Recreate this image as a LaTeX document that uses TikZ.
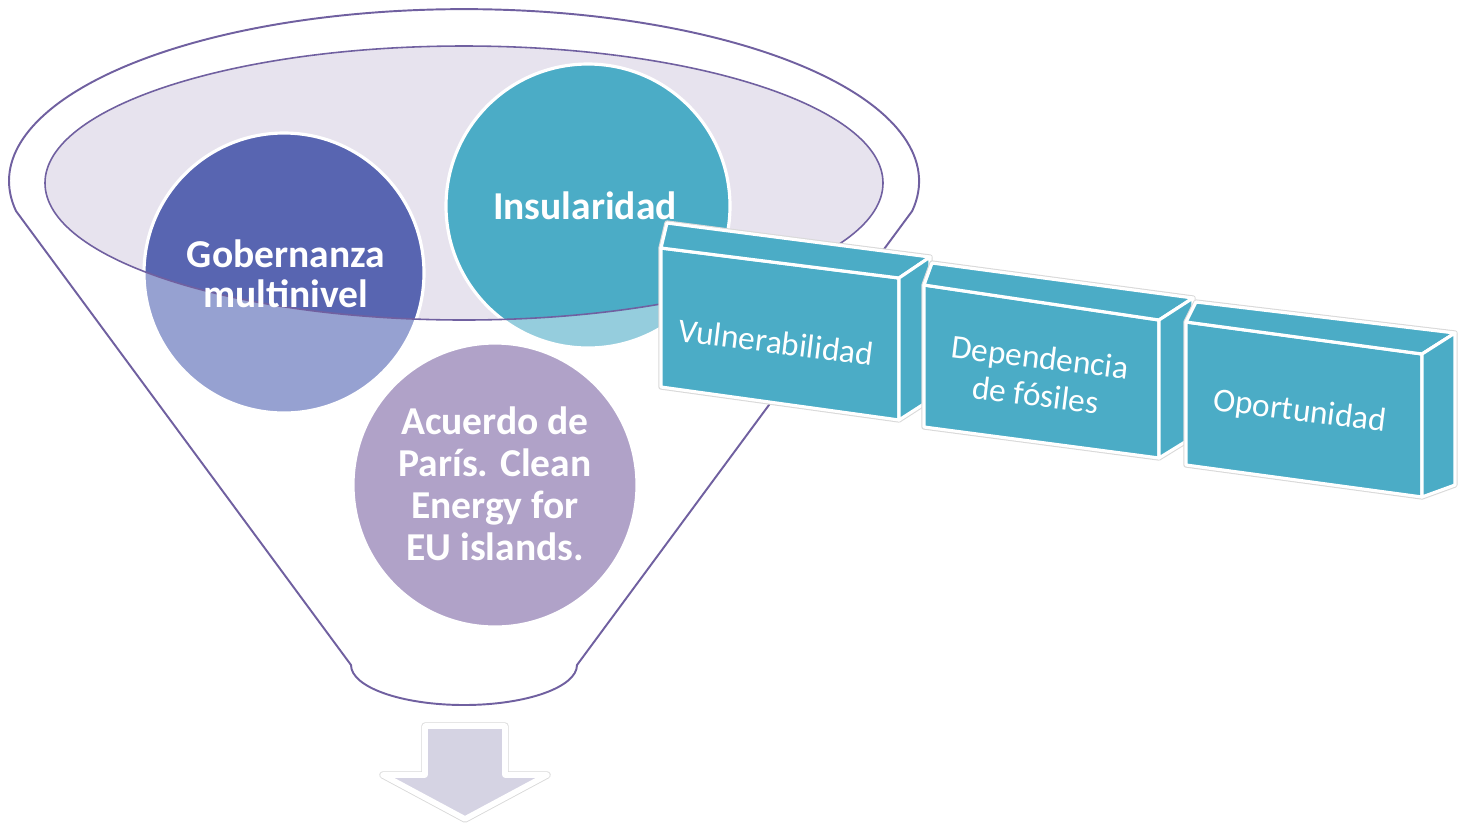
\documentclass[tikz,border=0pt]{standalone}
\usepackage{fontspec}
\setmainfont{Carlito}
\definecolor{funl}{RGB}{112,96,160}
\definecolor{innf}{RGB}{231,227,238}
\definecolor{govd}{RGB}{88,101,177}
\definecolor{govl}{RGB}{150,161,209}
\definecolor{insd}{RGB}{75,172,198}
\definecolor{insl}{RGB}{149,205,221}
\definecolor{acu}{RGB}{176,162,200}
\definecolor{boxc}{RGB}{75,172,198}
\definecolor{arrc}{RGB}{213,211,227}
\newcommand\mycube[7]{%
  \draw[boxshadow] (#4) -- (#1) -- (#5) -- (#6) -- (#7) -- (#3) -- cycle;
  \draw[boxface] (#1) -- (#2) -- (#3) -- (#4) -- cycle;
  \draw[boxface] (#1) -- (#5) -- (#6) -- (#2) -- cycle;
  \draw[boxface] (#2) -- (#6) -- (#7) -- (#3) -- cycle;
}
\begin{document}
\begin{tikzpicture}[x=0.02cm,y=-0.02cm,
  funline/.style={draw=funl,line width=1.1pt},
  circtext/.style={text=white,font=\bfseries\fontsize{22.5}{24}\selectfont,align=center,inner sep=0pt},
  boxtext/.style={text=white,font=\fontsize{19}{21.5}\selectfont,align=center,inner sep=0pt,rotate=-7},
  boxshadow/.style={draw=black!15,line width=3pt,line join=round},
  boxface/.style={fill=boxc,draw=white,line width=1.8pt,line join=round},
  circedge/.style={draw=white,line width=1.8pt},
]
\useasboundingbox (0,0) rectangle (1458,826);
% outer funnel
\draw[funline,fill=white] (16,211) arc[start angle=170,end angle=370,x radius=455,y radius=172]
  -- (577,665) arc[start angle=0,end angle=180,x radius=113,y radius=40] -- cycle;
% inner ellipse
\fill[innf] (464,183) ellipse[x radius=419,y radius=137];
% circles (light parts)
\fill[govl] (284,273) circle[radius=140];
\fill[insl] (588,206) circle[radius=142];
\fill[acu] (495,485) circle[radius=142];
% dark parts inside ellipse
\begin{scope}
  \clip (464,183) ellipse[x radius=419,y radius=137];
  \fill[govd] (284,273) circle[radius=140];
  \fill[insd] (588,206) circle[radius=142];
\end{scope}
\draw[circedge] (284,273) circle[radius=140];
\draw[circedge] (588,206) circle[radius=142];
\draw[circedge] (495,485) circle[radius=142];
\draw[draw=funl,line width=0.9pt] (464,183) ellipse[x radius=419,y radius=137];
% circle texts
\node[circtext,font=\bfseries\fontsize{22.5}{22.5}\selectfont] (gob) at (286,274) {Gobernanza\\multinivel};
\node[circtext] (ins) at (585,206) {Insularidad};
\node[circtext] (acu) at (495,484) {Acuerdo de\\París. Clean\\Energy for\\EU islands.};
% boxes
\mycube{661,248}{899,278}{899,420}{661,387}{667,223}{930,257}{930,400}
\mycube{924,285}{1159,320}{1159,458}{924,427}{932,263}{1193,298}{1193,437}
\mycube{1186,322}{1422,354}{1422,497}{1186,465}{1196,302}{1455,333}{1455,485}
\node[boxtext] (vul) at (776,342) {Vulnerabilidad};
\node[boxtext] (dep) at (1038,376) {Dependencia\\de fósiles};
\node[boxtext] (opo) at (1300,412) {Oportunidad};
% arrow
\draw[draw=black!15,line width=4.2pt,line join=round] (425,726) -- (505,726) -- (505,775) -- (547,775) -- (465,819) -- (383,775) -- (425,775) -- cycle;
\draw[fill=arrc,draw=white,line width=3.2pt,line join=round] (425,726) -- (505,726) -- (505,775) -- (547,775) -- (465,819) -- (383,775) -- (425,775) -- cycle;
\end{tikzpicture}
\end{document}
